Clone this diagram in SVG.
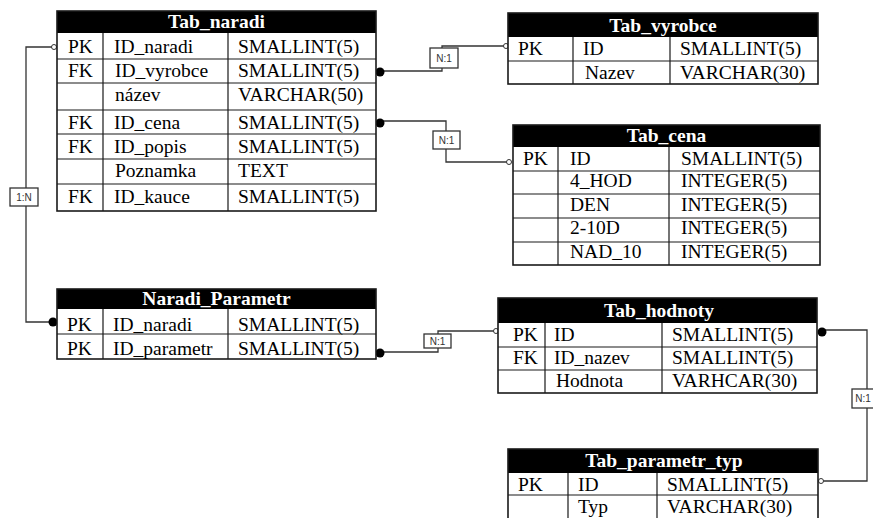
<svg xmlns="http://www.w3.org/2000/svg" width="873" height="518" viewBox="0 0 873 518">
<style>
.bg{fill:#fff}
.hd{fill:#000}
.ob{fill:none;stroke:#1a1a1a;stroke-width:1.6}
.ln{stroke:#1a1a1a;stroke-width:1.2;fill:none}
.ht{font-family:"Liberation Serif","Times New Roman",serif;font-size:19.5px;font-weight:bold;fill:#fff;text-anchor:middle}
.t{font-family:"Liberation Serif","Times New Roman",serif;font-size:19.5px;fill:#000}
.c{fill:none;stroke:#333;stroke-width:1.3}
.dot{fill:#000}
.oc{fill:#fff;stroke:#333;stroke-width:1}
.lb{fill:#fff;stroke:#333;stroke-width:1.3}
.lt{font-family:"Liberation Sans",Arial,sans-serif;font-size:10px;fill:#333;text-anchor:middle}
</style>
<rect width="873" height="518" fill="#fff"/>

<g id="connectors">
  <path class="c" d="M380,71 H442 V46 H506"/>
  <circle class="dot" cx="380" cy="72" r="4.5"/>
  <circle class="oc" cx="506" cy="46" r="2.5"/>
  <rect class="lb" x="430" y="48" width="28" height="20"/>
  <text class="lt" x="444" y="62">N:1</text>

  <path class="c" d="M380,121 H446 V162 H508"/>
  <circle class="dot" cx="380" cy="123" r="4.5"/>
  <circle class="oc" cx="509" cy="162" r="2.5"/>
  <rect class="lb" x="433" y="131" width="27" height="18"/>
  <text class="lt" x="446.5" y="144">N:1</text>

  <path class="c" d="M53,47 H26 V322 H53"/>
  <circle class="oc" cx="54" cy="47" r="2.5"/>
  <circle class="dot" cx="53" cy="322" r="4.5"/>
  <rect class="lb" x="10" y="188" width="28" height="18"/>
  <text class="lt" x="24" y="201">1:N</text>

  <path class="c" d="M380,352 H438 V331 H496"/>
  <circle class="dot" cx="380" cy="353" r="4.5"/>
  <circle class="oc" cx="496" cy="331" r="2.5"/>
  <rect class="lb" x="424" y="334" width="27" height="14"/>
  <text class="lt" x="437.5" y="345">N:1</text>

  <path class="c" d="M822,330 H867 V481 H821"/>
  <circle class="dot" cx="822" cy="332" r="4.5"/>
  <circle class="oc" cx="821" cy="481" r="2.5"/>
  <rect class="lb" x="852" y="389" width="24" height="19"/>
  <text class="lt" x="863" y="402">N:1</text>
</g>

<g id="Tab_naradi">
  <rect class="bg" x="57" y="11" width="319" height="200"/>
  <rect class="hd" x="57" y="11" width="319" height="22"/>
  <path class="ln" d="M57,59 H376 M57,83 H376 M57,110 H376 M57,134 H376 M57,159 H376 M57,184 H376 M103,33 V211 M228,33 V211"/>
  <rect class="ob" x="57" y="11" width="319" height="200"/>
  <text class="ht" x="216.5" y="28">Tab_naradi</text>
  <text class="t" x="68" y="53">PK</text><text class="t" x="114" y="53">ID_naradi</text><text class="t" x="238" y="53">SMALLINT(5)</text>
  <text class="t" x="68" y="77">FK</text><text class="t" x="115" y="77">ID_vyrobce</text><text class="t" x="238" y="77">SMALLINT(5)</text>
  <text class="t" x="115" y="101">název</text><text class="t" x="238" y="101">VARCHAR(50)</text>
  <text class="t" x="68" y="129">FK</text><text class="t" x="114" y="129">ID_cena</text><text class="t" x="238" y="129">SMALLINT(5)</text>
  <text class="t" x="68" y="153">FK</text><text class="t" x="114" y="153">ID_popis</text><text class="t" x="238" y="153">SMALLINT(5)</text>
  <text class="t" x="115" y="177">Poznamka</text><text class="t" x="238" y="177">TEXT</text>
  <text class="t" x="68" y="203">FK</text><text class="t" x="114" y="203">ID_kauce</text><text class="t" x="238" y="203">SMALLINT(5)</text>
</g>

<g id="Tab_vyrobce">
  <rect class="bg" x="508" y="13" width="310" height="71"/>
  <rect class="hd" x="508" y="13" width="310" height="24"/>
  <path class="ln" d="M508,61 H818 M573,37 V84 M670,37 V84"/>
  <rect class="ob" x="508" y="13" width="310" height="71"/>
  <text class="ht" x="663" y="32">Tab_vyrobce</text>
  <text class="t" x="518" y="55">PK</text><text class="t" x="583" y="55">ID</text><text class="t" x="680" y="55">SMALLINT(5)</text>
  <text class="t" x="585" y="79">Nazev</text><text class="t" x="680" y="79">VARCHAR(30)</text>
</g>

<g id="Tab_cena">
  <rect class="bg" x="513" y="125" width="307" height="140"/>
  <rect class="hd" x="513" y="125" width="307" height="22"/>
  <path class="ln" d="M513,171 H820 M513,194 H820 M513,218 H820 M513,242 H820 M558,147 V265 M669,147 V265"/>
  <rect class="ob" x="513" y="125" width="307" height="140"/>
  <text class="ht" x="666.5" y="142">Tab_cena</text>
  <text class="t" x="523" y="165">PK</text><text class="t" x="570" y="165">ID</text><text class="t" x="681" y="165">SMALLINT(5)</text>
  <text class="t" x="570" y="187">4_HOD</text><text class="t" x="681" y="187">INTEGER(5)</text>
  <text class="t" x="570" y="211">DEN</text><text class="t" x="681" y="211">INTEGER(5)</text>
  <text class="t" x="570" y="234">2-10D</text><text class="t" x="681" y="234">INTEGER(5)</text>
  <text class="t" x="570" y="258">NAD_10</text><text class="t" x="681" y="258">INTEGER(5)</text>
</g>

<g id="Naradi_Parametr">
  <rect class="bg" x="57" y="289" width="319" height="70"/>
  <rect class="hd" x="57" y="289" width="319" height="20"/>
  <path class="ln" d="M57,334 H376 M103,309 V359 M228,309 V359"/>
  <rect class="ob" x="57" y="289" width="319" height="70"/>
  <text class="ht" x="216.5" y="305">Naradi_Parametr</text>
  <text class="t" x="67" y="331">PK</text><text class="t" x="113" y="331">ID_naradi</text><text class="t" x="238" y="331">SMALLINT(5)</text>
  <text class="t" x="67" y="355">PK</text><text class="t" x="113" y="355">ID_parametr</text><text class="t" x="238" y="355">SMALLINT(5)</text>
</g>

<g id="Tab_hodnoty">
  <rect class="bg" x="498" y="298" width="319" height="95"/>
  <rect class="hd" x="498" y="298" width="319" height="25"/>
  <path class="ln" d="M498,347 H817 M498,370 H817 M545,323 V393 M662,323 V393"/>
  <rect class="ob" x="498" y="298" width="319" height="95"/>
  <text class="ht" x="659" y="317">Tab_hodnoty</text>
  <text class="t" x="513" y="341">PK</text><text class="t" x="554" y="341">ID</text><text class="t" x="672" y="341">SMALLINT(5)</text>
  <text class="t" x="513" y="364">FK</text><text class="t" x="554" y="364">ID_nazev</text><text class="t" x="672" y="364">SMALLINT(5)</text>
  <text class="t" x="556" y="387">Hodnota</text><text class="t" x="672" y="387">VARHCAR(30)</text>
</g>

<g id="Tab_parametr_typ">
  <rect class="bg" x="508" y="449" width="310" height="72"/>
  <rect class="hd" x="508" y="449" width="310" height="24"/>
  <path class="ln" d="M508,495 H818 M568,473 V521 M657,473 V521"/>
  <rect class="ob" x="508" y="449" width="310" height="72"/>
  <text class="ht" x="664" y="467">Tab_parametr_typ</text>
  <text class="t" x="518" y="491">PK</text><text class="t" x="578" y="491">ID</text><text class="t" x="667" y="491">SMALLINT(5)</text>
  <text class="t" x="578" y="513">Typ</text><text class="t" x="667" y="513">VARCHAR(30)</text>
</g>
</svg>
